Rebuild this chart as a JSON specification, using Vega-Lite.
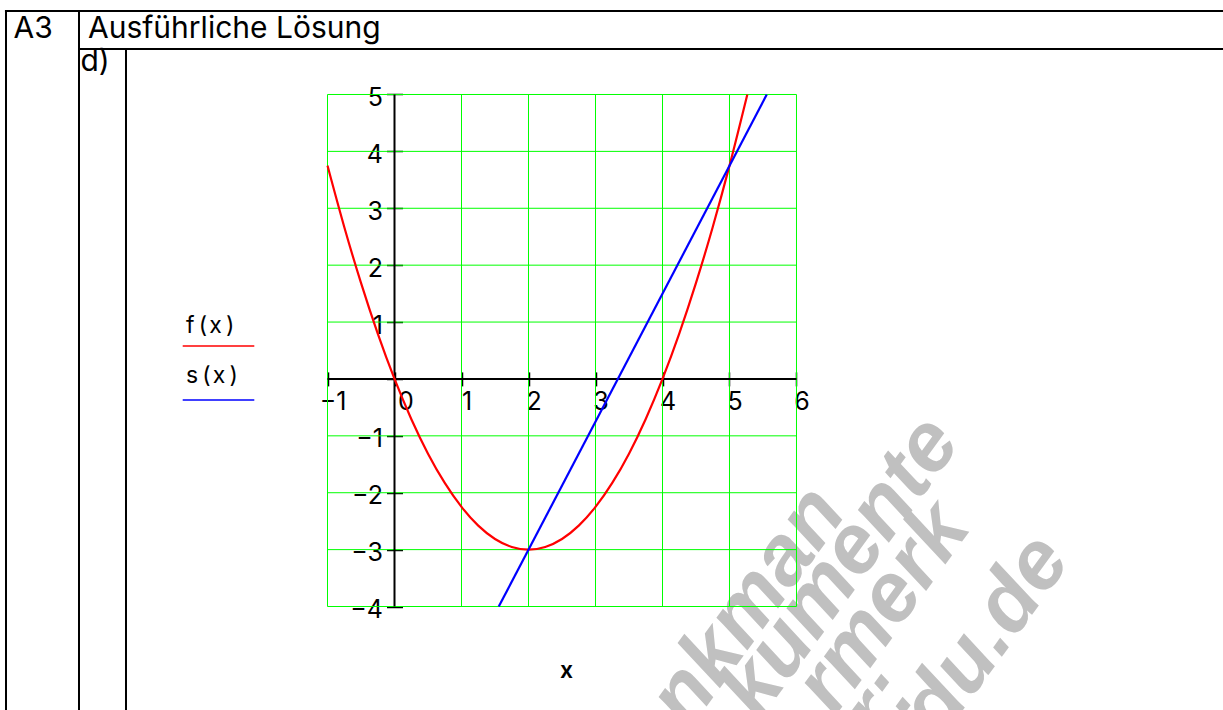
{
  "$schema": "https://vega.github.io/schema/vega-lite/v6.json",
  "width": 1223,
  "height": 710,
  "padding": 0,
  "autosize": {"type": "none"},
  "background": "#ffffff",
  "config": {"view": {"stroke": null}, "font": "Inter"},
  "datasets": {
    "curves": [
      {"fn": "f", "x": -1, "y": 3.75},
      {"fn": "f", "x": -0.75, "y": 2.672},
      {"fn": "f", "x": -0.5, "y": 1.688},
      {"fn": "f", "x": -0.25, "y": 0.797},
      {"fn": "f", "x": 0, "y": 0},
      {"fn": "f", "x": 0.25, "y": -0.703},
      {"fn": "f", "x": 0.5, "y": -1.313},
      {"fn": "f", "x": 0.75, "y": -1.828},
      {"fn": "f", "x": 1, "y": -2.25},
      {"fn": "f", "x": 1.25, "y": -2.578},
      {"fn": "f", "x": 1.5, "y": -2.813},
      {"fn": "f", "x": 1.75, "y": -2.953},
      {"fn": "f", "x": 2, "y": -3},
      {"fn": "f", "x": 2.25, "y": -2.953},
      {"fn": "f", "x": 2.5, "y": -2.813},
      {"fn": "f", "x": 2.75, "y": -2.578},
      {"fn": "f", "x": 3, "y": -2.25},
      {"fn": "f", "x": 3.25, "y": -1.828},
      {"fn": "f", "x": 3.5, "y": -1.313},
      {"fn": "f", "x": 3.75, "y": -0.703},
      {"fn": "f", "x": 4, "y": 0},
      {"fn": "f", "x": 4.25, "y": 0.797},
      {"fn": "f", "x": 4.5, "y": 1.688},
      {"fn": "f", "x": 4.75, "y": 2.672},
      {"fn": "f", "x": 5, "y": 3.75},
      {"fn": "f", "x": 5.266, "y": 5},
      {"fn": "s", "x": 1.556, "y": -4},
      {"fn": "s", "x": 5.556, "y": 5}
    ],
    "gridx": [{"v": -1}, {"v": 0}, {"v": 1}, {"v": 2}, {"v": 3}, {"v": 4}, {"v": 5}, {"v": 6}],
    "gridy": [{"v": -4}, {"v": -3}, {"v": -2}, {"v": -1}, {"v": 0}, {"v": 1}, {"v": 2}, {"v": 3}, {"v": 4}, {"v": 5}],
    "tableV": [
      {"x": -5.7985, "top": 6.4853, "bottom": -6.5},
      {"x": -4.709, "top": 6.4853, "bottom": -6.5},
      {"x": -4.0075, "top": 5.8174, "bottom": -6.5}
    ],
    "tableH": [
      {"y": 6.4677, "left": -5.8142, "right": 13},
      {"y": 5.7998, "left": -4.7239, "right": 13}
    ],
    "header": [
      {"x": -5.6866, "y": 5.993, "label": "A3"},
      {"x": -4.5747, "y": 5.993, "label": "Ausführliche Lösung"},
      {"x": -4.6866, "y": 5.413, "label": "d)"}
    ],
    "legendText": [
      {"x": -3.112, "y": 0.8076, "label": "f\u2009(\u200ax\u2009)"},
      {"x": -3.112, "y": -0.0766, "label": "s\u2009(\u200ax\u2009)"}
    ],
    "legendLines": [
      {"fn": "f", "y": 0.579, "left": -3.1612, "right": -2.0926},
      {"fn": "s", "y": -0.3702, "left": -3.1612, "right": -2.0926}
    ],
    "xtitle": [{"x": 2.5671, "y": -5.2621, "label": "x"}],
    "watermark": [
      {"x": 6.7686, "y": -2.3389, "label": "nkman"},
      {"x": 8.4701, "y": -1.1085, "label": "kumente"},
      {"x": 8.6194, "y": -2.6201, "label": "rmerk"},
      {"x": 7.8134, "y": -5.5557, "label": "r:"},
      {"x": 10.1119, "y": -3.1826, "label": "du.de"}
    ],
    "origin": [{"a": 0, "b": 0}]
  },
  "layer": [
    {
      "data": {"name": "watermark"},
      "mark": {"type": "text", "font": "Liberation Sans", "fontSize": 84, "fontWeight": "bold", "fontStyle": "italic", "angle": -54, "align": "right", "baseline": "alphabetic", "color": "#c0c0c0", "clip": true},
      "encoding": {
        "x": {"field": "x", "type": "quantitative", "scale": {"domain": [-5.8881, 12.3657], "nice": false, "zero": false}, "axis": null},
        "y": {"field": "y", "type": "quantitative", "scale": {"domain": [-5.8193, 6.6611], "nice": false, "zero": false}, "axis": null},
        "text": {"field": "label"}
      }
    },
    {
      "data": {"name": "gridx"},
      "mark": {"type": "rule", "color": "#00ff00", "strokeWidth": 1},
      "encoding": {
        "x": {"field": "v", "type": "quantitative", "scale": {"domain": [-5.8881, 12.3657], "nice": false, "zero": false}, "axis": null},
        "y": {"datum": -4, "type": "quantitative", "scale": {"domain": [-5.8193, 6.6611], "nice": false, "zero": false}, "axis": null},
        "y2": {"datum": 5}
      }
    },
    {
      "data": {"name": "gridy"},
      "mark": {"type": "rule", "color": "#00ff00", "strokeWidth": 1},
      "encoding": {
        "y": {"field": "v", "type": "quantitative", "scale": {"domain": [-5.8193, 6.6611], "nice": false, "zero": false}, "axis": null},
        "x": {"datum": -1, "type": "quantitative", "scale": {"domain": [-5.8881, 12.3657], "nice": false, "zero": false}, "axis": null},
        "x2": {"datum": 6}
      }
    },
    {
      "data": {"name": "origin"},
      "mark": {"type": "point", "opacity": 0},
      "encoding": {
        "x": {"field": "a", "type": "quantitative", "scale": {"domain": [-5.8881, 12.3657], "nice": false, "zero": false},
          "axis": {"orient": "bottom", "offset": -331.1, "values": [-1, 0, 1, 2, 3, 4, 5, 6], "domain": false, "grid": false, "ticks": true, "tickSize": 7, "tickColor": "#000000", "tickWidth": 1.5, "labelFont": "Inter", "labelFontSize": 25, "labelColor": "#000000", "labelAlign": "center", "labelOffset": {"condition": {"test": "datum.value == 0", "value": 11}, "value": 5}, "labelPadding": 4, "labelFlush": false, "labelOverlap": false, "labelBound": false, "title": null}},
        "y": {"field": "b", "type": "quantitative", "scale": {"domain": [-5.8193, 6.6611], "nice": false, "zero": false},
          "axis": {"orient": "left", "offset": -394.5, "values": [-4, -3, -2, -1, 0, 1, 2, 3, 4, 5], "labelExpr": "datum.value == 0 ? '' : datum.label", "domain": false, "grid": false, "tickSize": 8, "tickColor": "#000000", "tickWidth": 1.5, "labelFont": "Inter", "labelFontSize": 25, "labelColor": "#000000", "labelPadding": 4, "labelBaseline": "middle", "labelOffset": 3, "labelFlush": false, "labelOverlap": false, "labelBound": false, "title": null}}
      }
    },
    {
      "data": {"name": "origin"},
      "mark": {"type": "point", "opacity": 0},
      "encoding": {
        "x": {"field": "a", "type": "quantitative", "scale": {"domain": [-5.8881, 12.3657], "nice": false, "zero": false},
          "axis": {"orient": "top", "offset": -378.9, "values": [-1, 0, 1, 2, 3, 4, 5, 6], "domain": false, "grid": false, "labels": false, "tickSize": 7, "tickColor": "#000000", "tickWidth": 1.5, "title": null}},
        "y": {"field": "b", "type": "quantitative", "scale": {"domain": [-5.8193, 6.6611], "nice": false, "zero": false},
          "axis": {"orient": "right", "offset": -828.5, "values": [-4, -3, -2, -1, 0, 1, 2, 3, 4, 5], "domain": false, "grid": false, "labels": false, "tickSize": 8, "tickColor": "#000000", "tickWidth": 1.5, "title": null}}
      }
    },
    {
      "data": {"values": [{}]},
      "mark": {"type": "rule", "color": "#000000", "strokeWidth": 2},
      "encoding": {
        "y": {"datum": 0, "type": "quantitative", "scale": {"domain": [-5.8193, 6.6611], "nice": false, "zero": false}, "axis": null},
        "x": {"datum": -1, "type": "quantitative", "scale": {"domain": [-5.8881, 12.3657], "nice": false, "zero": false}, "axis": null},
        "x2": {"datum": 6}
      }
    },
    {
      "data": {"values": [{}]},
      "mark": {"type": "rule", "color": "#000000", "strokeWidth": 2},
      "encoding": {
        "x": {"datum": 0, "type": "quantitative", "scale": {"domain": [-5.8881, 12.3657], "nice": false, "zero": false}, "axis": null},
        "y": {"datum": -4, "type": "quantitative", "scale": {"domain": [-5.8193, 6.6611], "nice": false, "zero": false}, "axis": null},
        "y2": {"datum": 5}
      }
    },
    {
      "data": {"name": "curves"},
      "mark": {"type": "line", "strokeWidth": 2.2, "interpolate": "monotone"},
      "encoding": {
        "x": {"field": "x", "type": "quantitative", "scale": {"domain": [-5.8881, 12.3657], "nice": false, "zero": false}, "axis": null},
        "y": {"field": "y", "type": "quantitative", "scale": {"domain": [-5.8193, 6.6611], "nice": false, "zero": false}, "axis": null},
        "color": {"field": "fn", "type": "nominal", "scale": {"domain": ["f", "s"], "range": ["#ff0000", "#0000ff"]}, "legend": null}
      }
    },
    {
      "data": {"name": "legendLines"},
      "mark": {"type": "rule", "strokeWidth": 1.5},
      "encoding": {
        "y": {"field": "y", "type": "quantitative", "scale": {"domain": [-5.8193, 6.6611], "nice": false, "zero": false}, "axis": null},
        "x": {"field": "left", "type": "quantitative", "scale": {"domain": [-5.8881, 12.3657], "nice": false, "zero": false}, "axis": null},
        "x2": {"field": "right"},
        "color": {"field": "fn", "type": "nominal", "scale": {"domain": ["f", "s"], "range": ["#ff0000", "#0000ff"]}, "legend": null}
      }
    },
    {
      "data": {"name": "tableV"},
      "mark": {"type": "rule", "color": "#000000", "strokeWidth": 2, "clip": true},
      "encoding": {
        "x": {"field": "x", "type": "quantitative", "scale": {"domain": [-5.8881, 12.3657], "nice": false, "zero": false}, "axis": null},
        "y": {"field": "top", "type": "quantitative", "scale": {"domain": [-5.8193, 6.6611], "nice": false, "zero": false}, "axis": null},
        "y2": {"field": "bottom"}
      }
    },
    {
      "data": {"name": "tableH"},
      "mark": {"type": "rule", "color": "#000000", "strokeWidth": 2, "clip": true},
      "encoding": {
        "y": {"field": "y", "type": "quantitative", "scale": {"domain": [-5.8193, 6.6611], "nice": false, "zero": false}, "axis": null},
        "x": {"field": "left", "type": "quantitative", "scale": {"domain": [-5.8881, 12.3657], "nice": false, "zero": false}, "axis": null},
        "x2": {"field": "right"}
      }
    },
    {
      "data": {"name": "header"},
      "mark": {"type": "text", "font": "Inter", "fontSize": 30, "align": "left", "baseline": "alphabetic", "color": "#000000"},
      "encoding": {
        "x": {"field": "x", "type": "quantitative", "scale": {"domain": [-5.8881, 12.3657], "nice": false, "zero": false}, "axis": null},
        "y": {"field": "y", "type": "quantitative", "scale": {"domain": [-5.8193, 6.6611], "nice": false, "zero": false}, "axis": null},
        "text": {"field": "label"}
      }
    },
    {
      "data": {"name": "legendText"},
      "mark": {"type": "text", "font": "Inter", "fontSize": 23, "align": "left", "baseline": "alphabetic", "color": "#000000"},
      "encoding": {
        "x": {"field": "x", "type": "quantitative", "scale": {"domain": [-5.8881, 12.3657], "nice": false, "zero": false}, "axis": null},
        "y": {"field": "y", "type": "quantitative", "scale": {"domain": [-5.8193, 6.6611], "nice": false, "zero": false}, "axis": null},
        "text": {"field": "label"}
      }
    },
    {
      "data": {"name": "xtitle"},
      "mark": {"type": "text", "font": "Inter", "fontSize": 23, "fontWeight": 600, "align": "center", "baseline": "alphabetic", "color": "#000000"},
      "encoding": {
        "x": {"field": "x", "type": "quantitative", "scale": {"domain": [-5.8881, 12.3657], "nice": false, "zero": false}, "axis": null},
        "y": {"field": "y", "type": "quantitative", "scale": {"domain": [-5.8193, 6.6611], "nice": false, "zero": false}, "axis": null},
        "text": {"field": "label"}
      }
    }
  ],
  "resolve": {"axis": {"x": "independent", "y": "independent"}}
}
